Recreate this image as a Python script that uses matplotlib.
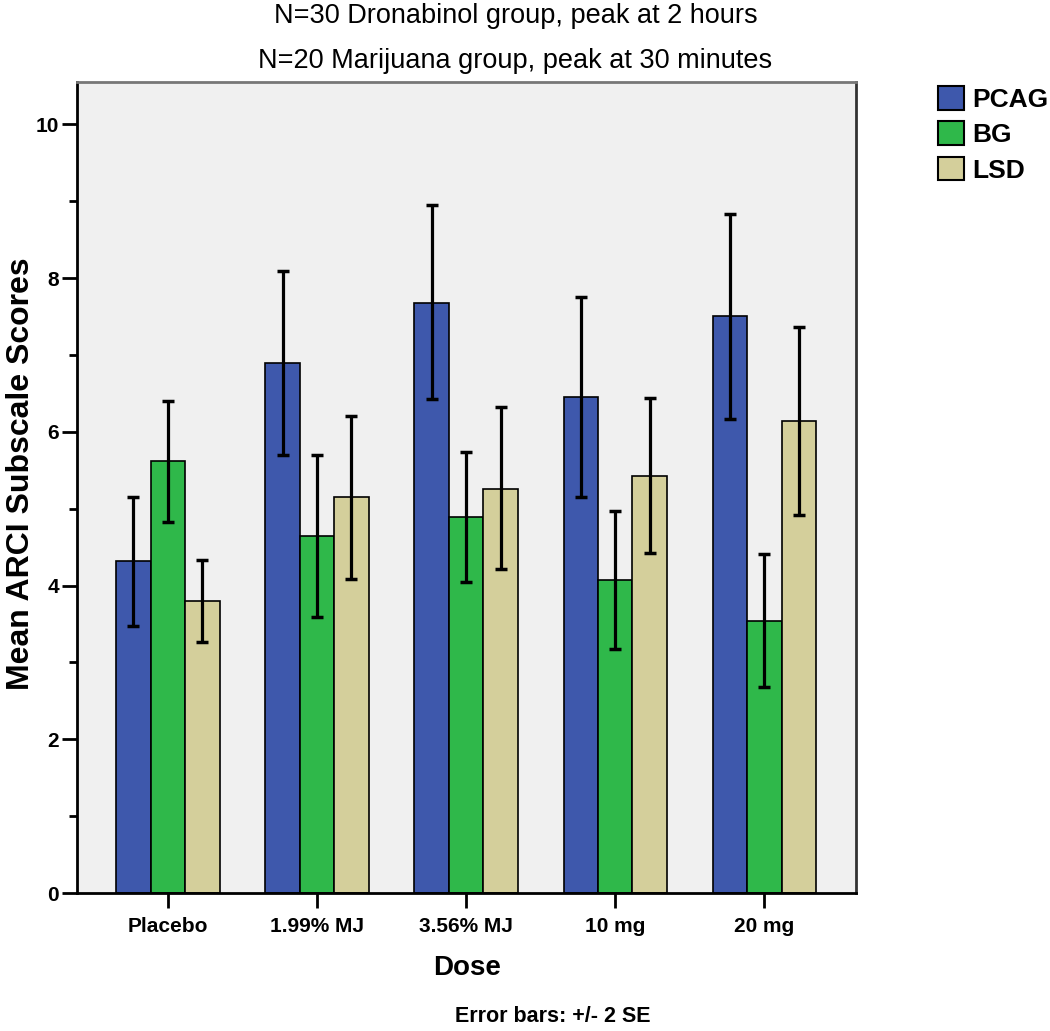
import numpy as np
import matplotlib
matplotlib.use("Agg")
import matplotlib.pyplot as plt
from matplotlib.patches import Patch
from matplotlib.ticker import MultipleLocator

doses = ["Placebo", "1.99% MJ", "3.56% MJ", "10 mg", "20 mg"]
series = ["PCAG", "BG", "LSD"]
colors = ["#3E58AC", "#2FB84A", "#D4CF9B"]

pcag = [4.32, 6.90, 7.68, 6.45, 7.50]
pcag_lo = [3.47, 5.70, 6.42, 5.15, 6.17]
pcag_hi = [5.15, 8.09, 8.95, 7.75, 8.83]

bg = [5.62, 4.65, 4.89, 4.07, 3.54]
bg_lo = [4.82, 3.59, 4.04, 3.17, 2.68]
bg_hi = [6.40, 5.70, 5.74, 4.97, 4.41]

lsd = [3.80, 5.15, 5.26, 5.42, 6.14]
lsd_lo = [3.27, 4.09, 4.21, 4.42, 4.92]
lsd_hi = [4.33, 6.20, 6.32, 6.44, 7.36]

means = [pcag, bg, lsd]
lows = [pcag_lo, bg_lo, lsd_lo]
highs = [pcag_hi, bg_hi, lsd_hi]

plt.rcParams['font.family'] = ['Liberation Sans', 'DejaVu Sans']

fig = plt.figure(figsize=(10.5, 10.31), dpi=100)
ax = fig.add_axes([0.0733, 0.1338, 0.742, 0.7867])
ax.set_facecolor("#F0F0F0")

x = np.arange(len(doses))
w = 0.231
for i in range(len(series)):
    xi = x + (i - 1) * w
    m = np.array(means[i])
    yerr = [m - np.array(lows[i]), np.array(highs[i]) - m]
    ax.bar(xi, m, w, color=colors[i], edgecolor="black", linewidth=1.2, zorder=2)
    ax.errorbar(xi, m, yerr=yerr, fmt="none", ecolor="black", elinewidth=2.3,
                capsize=4, capthick=2.5, zorder=3)

ax.set_xlim(-0.61, 4.615)
ax.set_ylim(0, 10.55)
ax.set_xticks(x)
ax.set_xticklabels(doses, fontsize=15, fontweight="bold")
ax.yaxis.set_major_locator(MultipleLocator(2))
ax.yaxis.set_minor_locator(MultipleLocator(1))
ax.tick_params(axis="y", which="major", length=11, width=2, labelsize=15, pad=2)
ax.tick_params(axis="y", which="minor", length=6, width=2)
ax.tick_params(axis="x", which="major", length=11, width=2, pad=6)
ax.set_yticks([0, 2, 4, 6, 8, 10])
ax.set_yticklabels(["0", "2", "4", "6", "8", "10"], fontweight="bold")

for s in ["left", "bottom"]:
    ax.spines[s].set_linewidth(2)
    ax.spines[s].set_color("black")
ax.spines["top"].set_color("#777777")
ax.spines["top"].set_linewidth(2)
ax.spines["right"].set_color("#333333")
ax.spines["right"].set_linewidth(2)

fig.text(0.006, 0.541, "Mean ARCI Subscale Scores", rotation=90, ha="left", va="center",
         fontsize=23, fontweight="bold")
fig.text(0.4445, 1 - 968 / 1031, "Dose", ha="center", va="center",
         fontsize=20, fontweight="bold")

fig.text(0.491, 1 - 16 / 1031, "N=30 Dronabinol group, peak at 2 hours", ha="center",
         va="center", fontsize=19.5)
fig.text(0.491, 1 - 61 / 1031, "N=20 Marijuana group, peak at 30 minutes", ha="center",
         va="center", fontsize=19.5)
fig.text(553 / 1050, 1 - 1017 / 1031, "Error bars: +/- 2 SE", ha="center", va="center",
         fontsize=15.5, fontweight="bold")

handles = [Patch(facecolor=c, edgecolor="black", linewidth=1.5) for c in colors]
leg = fig.legend(handles, series, loc="upper left", bbox_to_anchor=(938 / 1050, 1 - 86 / 1031),
                 frameon=False, borderaxespad=0, borderpad=0,
                 handlelength=1.0, handleheight=1.0, handletextpad=0.3,
                 labelspacing=0.36, prop={"size": 19, "weight": "bold"})

fig.savefig("out.png", dpi=100)
